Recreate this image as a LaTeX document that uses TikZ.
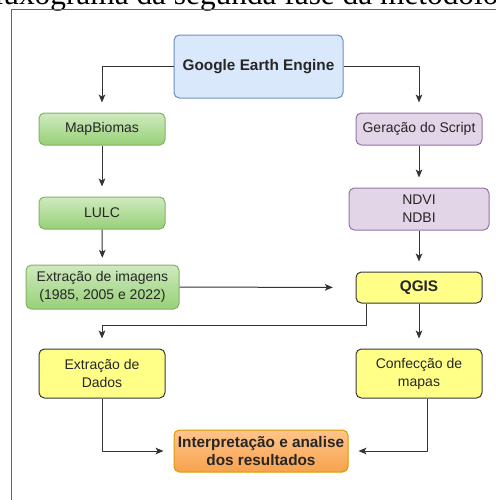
\documentclass[tikz,border=0pt]{standalone}
\usepackage{fontspec}
\setmainfont{Liberation Sans}
\newfontfamily\capfont{Liberation Serif}
\usetikzlibrary{arrows.meta}
\definecolor{geefill}{HTML}{DAE8FC}
\definecolor{geedraw}{HTML}{6C8EBF}
\definecolor{greentop}{HTML}{CFEABF}
\definecolor{greenbot}{HTML}{97D077}
\definecolor{greendraw}{HTML}{82B366}
\definecolor{lilafill}{HTML}{E1D5E7}
\definecolor{liladraw}{HTML}{9673A6}
\definecolor{yelfill}{HTML}{FFFF88}
\definecolor{yeldraw}{HTML}{36393D}
\definecolor{orgtop}{HTML}{FFC58A}
\definecolor{orgbot}{HTML}{F7A24E}
\definecolor{orgdraw}{HTML}{D79B00}
\definecolor{linecol}{HTML}{333333}
\tikzset{
  box/.style={rounded corners=4pt,line width=0.75pt,align=center,inner sep=1pt,
    font=\fontsize{10.5}{13.5}\selectfont,text=black!85},
  bluebox/.style={box,fill=geefill,draw=geedraw},
  greenbox/.style={box,top color=greentop,bottom color=greenbot,draw=greendraw},
  lilabox/.style={box,fill=lilafill,draw=liladraw},
  yelbox/.style={box,fill=yelfill,draw=yeldraw},
  orgbox/.style={box,top color=orgtop,bottom color=orgbot,draw=orgdraw},
  arr/.style={draw=linecol,line width=0.75pt,-{Stealth[length=6pt,width=5pt,inset=1.5pt]},shorten >=7.5pt},
}
\begin{document}
\begin{tikzpicture}[x=0.75pt,y=-0.75pt,line join=round]
            \useasboundingbox (0,0) rectangle (496,500);
            \clip (0,0) rectangle (496,500);
            % caption cut off at the top
            \node[anchor=base west,inner sep=0pt,font=\capfont\fontsize{23.5}{28}\selectfont] (caption) at (-23,4) {Fluxograma da segunda fase da metodologia};
            \draw[draw=black!60,line width=0.75pt] (11,500) -- (11,9) -- (500,9);
            % boxes
            \path
            (258.5,66.5) node[bluebox,minimum width=126.75pt,minimum height=47.25pt,font=\bfseries\fontsize{11.5}{14}\selectfont] (gee) {Google Earth Engine}
            (102,129) node[greenbox,minimum width=94.5pt,minimum height=24pt] (mapb) {MapBiomas}
            (419,129) node[lilabox,minimum width=94.5pt,minimum height=24pt] (script) {Geração do Script}
            (102,213) node[greenbox,minimum width=94.5pt,minimum height=24pt] (lulc) {LULC}
            (419,209) node[lilabox,minimum width=105pt,minimum height=31.5pt] (ndvi) {NDVI\\NDBI}
            (102.5,287) node[greenbox,minimum width=114.75pt,minimum height=33pt] (ext) {Extração de imagens\\(1985, 2005 e 2022)}
            (419,287.5) node[yelbox,minimum width=94.5pt,minimum height=23.25pt,font=\bfseries\fontsize{11.5}{14}\selectfont] (qgis) {QGIS}
            (102,373.5) node[yelbox,minimum width=94.5pt,minimum height=36.75pt] (dados) {Extração de\\Dados}
            (419,373.5) node[yelbox,minimum width=94.5pt,minimum height=36.75pt] (mapas) {Confecção de\\mapas}
            (261,451) node[orgbox,minimum width=130.5pt,minimum height=31.5pt,font=\bfseries\fontsize{11.5}{14}\selectfont] (interp) {Interpretação e analise\\dos resultados}
            ;
            % connectors
            \draw[arr] (gee.west) -| (mapb.north);
            \draw[arr] (gee.east) -| (script.north);
            \draw[arr] (mapb) -- (lulc);
            \draw[arr] (script) -- (ndvi);
            \draw[arr,shorten >=5pt] (lulc) -- (ext);
            \draw[arr] (ndvi) -- (qgis);
            \draw[arr,shorten >=17pt] (ext) -- (qgis);
            \draw[arr] ([xshift=8.25pt]qgis.south west) -- ++(0,22) -| (dados.north);
            \draw[arr] (qgis) -- (mapas);
            \draw[arr] (dados.south) |- (interp.west);
            \draw[arr] ([xshift=6pt]mapas.south) |- (interp.east);
        \end{tikzpicture}
\end{document}
